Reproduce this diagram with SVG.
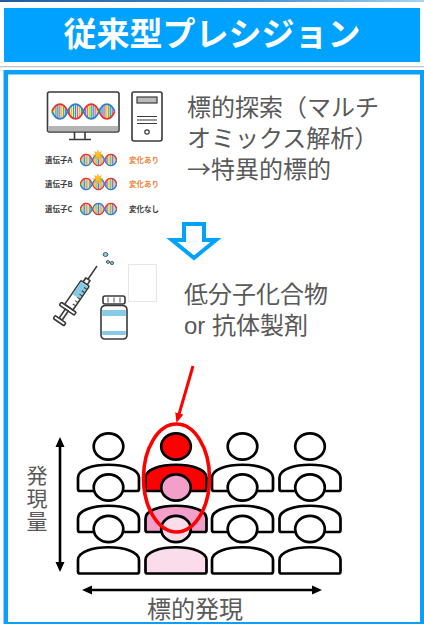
<svg xmlns="http://www.w3.org/2000/svg" width="424" height="624" viewBox="0 0 424 624">
  <defs>
    <style>
      .jp{font-family:"Noto Sans CJK JP","Noto Sans",sans-serif}
      .lt{font-family:"Liberation Sans","Noto Sans CJK JP",sans-serif}
      .title{font-size:33px;font-weight:bold;fill:#fff}
      .desc{font-size:24px;fill:#595959}
      .axis{font-size:21px;fill:#595959}
      .gene{font-size:7.5px;font-weight:bold;fill:#3c3c3c}
      .chg{font-size:7.5px;font-weight:bold;fill:#E8873F}
      .nochg{font-size:7.5px;font-weight:bold;fill:#3c3c3c}
      .ink{stroke:#3a3a3a;stroke-width:1.6;stroke-linejoin:round;fill:#fff}
      .ppl{stroke:#000;stroke-width:2.7;stroke-linejoin:round}
      .liquid{fill:#86CBE6}
      .rung{stroke-width:1.3;fill:none}
    </style>
    <linearGradient id="topStrip" x1="0" x2="1" y1="0" y2="0">
      <stop offset="0" stop-color="#1E5C9E"/>
      <stop offset="0.6" stop-color="#3F8FD0"/>
      <stop offset="1" stop-color="#A8D4F2"/>
    </linearGradient>
    <marker id="ahBlack" viewBox="0 0 10 10" refX="6" refY="5" markerWidth="10" markerHeight="10" markerUnits="userSpaceOnUse" orient="auto-start-reverse">
      <path d="M0,0.5 L10,5 L0,9.5 Z" fill="#000"/>
    </marker>
    <marker id="ahRed" viewBox="0 0 10 10" refX="6" refY="5" markerWidth="10" markerHeight="10" markerUnits="userSpaceOnUse" orient="auto">
      <path d="M0,0.8 L10,5 L0,9.2 Z" fill="#FF0000"/>
    </marker>
    <!-- double helix, 4 half-turns, 64 x 16 -->
    <g id="dnaCore">
      <path class="rung" stroke="#F2C200" d="M2,5.3V10.7M10,1.53V14.47M20,3.05V12.95M28,3.05V12.95M38,1.53V14.47M46,5.3V10.7M56,1V15"/>
      <path class="rung" stroke="#3DAE49" d="M4,3.05V12.95M12,3.05V12.95M22,1.53V14.47M30,5.3V10.7M40,1V15M50,5.3V10.7M58,1.53V14.47"/>
      <path class="rung" stroke="#2F8ED8" d="M6,1.53V14.47M14,5.3V10.7M24,1V15M34,5.3V10.7M42,1.53V14.47M52,3.05V12.95M60,3.05V12.95"/>
      <path class="rung" stroke="#E9579A" d="M8,1V15M18,5.3V10.7M26,1.53V14.47M36,3.05V12.95M44,3.05V12.95M54,1.53V14.47M62,5.3V10.7"/>
      <path d="M0,8 C4,-1.3 12,-1.3 16,8 S28,17.3 32,8 S44,-1.3 48,8 S60,17.3 64,8" fill="none" stroke="#E8322B" stroke-width="1.8"/>
      <path d="M0,8 C4,17.3 12,17.3 16,8 S28,-1.3 32,8 S44,17.3 48,8 S60,-1.3 64,8" fill="none" stroke="#2E7FCF" stroke-width="1.8"/>
    </g>
    <symbol id="dnaShort" viewBox="0 0 48 16" preserveAspectRatio="none">
      <use href="#dnaCore"/>
    </symbol>
    <polygon id="burst" fill="#FFC20E" stroke="#F39A1E" stroke-width="0.5" points="5,0 2.03,0.84 3.54,3.54 0.84,2.03 0,5 -0.84,2.03 -3.54,3.54 -2.03,0.84 -5,0 -2.03,-0.84 -3.54,-3.54 -0.84,-2.03 0,-5 0.84,-2.03 3.54,-3.54 2.03,-0.84"/>
    <!-- person pictogram: head centre at origin -->
    <g id="person">
      <path d="M-30.5,42.5 Q-30.5,44.5 -28.5,44.5 L28.5,44.5 Q30.5,44.5 30.5,42.5 L30.5,31 C30.5,14 -30.5,14 -30.5,31 Z"/>
      <ellipse cx="0" cy="0" rx="14.8" ry="13.2"/>
    </g>
  </defs>

  <!-- page background and frame -->
  <rect x="0" y="0" width="424" height="624" fill="#fff"/>
  <rect x="0" y="0" width="424" height="2" fill="url(#topStrip)"/>
  <g id="title">
    <rect x="4" y="8" width="416" height="54" fill="#00A2FF"/>
    <text class="jp title" x="212" y="46" text-anchor="middle">従来型プレシジョン</text>
  </g>
  <rect x="0" y="66" width="424" height="1.3" fill="#C4C4C4"/>
  <rect x="5.75" y="72.25" width="416.5" height="552" fill="#fff" stroke="#0AA0F7" stroke-width="4.5"/>

  <!-- target search: computer and gene list -->
  <g id="computer">
    <rect class="ink" x="47.5" y="92" width="71.5" height="40" rx="2"/>
    <rect x="48.3" y="126" width="69.9" height="5.2" fill="#B4B4B4"/>
    <use href="#dnaCore" transform="translate(52,103) scale(0.98,1.06)"/>
    <path d="M74.5,132V139M85,132V139M69,139.5H91" stroke="#3a3a3a" stroke-width="1.6" fill="none"/>
    <rect class="ink" x="132" y="92" width="30" height="49" rx="2"/>
    <rect x="137" y="97" width="20" height="6" fill="#BBBBBB" stroke="#3a3a3a" stroke-width="1.2"/>
    <path d="M137,116.5H157M137,120H157M137,123.5H157" stroke="#3a3a3a" stroke-width="1.2"/>
    <circle cx="147" cy="132" r="2.2" fill="#fff" stroke="#3a3a3a" stroke-width="1.2"/>
  </g>
  <g id="genes">
    <text class="jp gene" x="45" y="163">遺伝子A</text>
    <use href="#dnaShort" x="80" y="153.5" width="37" height="13"/>
    <use href="#burst" transform="translate(98,155)"/>
    <text class="jp chg" x="129" y="163">変化あり</text>
    <text class="jp gene" x="45" y="187">遺伝子B</text>
    <use href="#dnaShort" x="80" y="177.5" width="37" height="13"/>
    <use href="#burst" transform="translate(98,179)"/>
    <text class="jp chg" x="129" y="187">変化あり</text>
    <text class="jp gene" x="45" y="212">遺伝子C</text>
    <use href="#dnaShort" x="80" y="202.5" width="37" height="13"/>
    <text class="jp nochg" x="129" y="212">変化なし</text>
  </g>
  <g id="search-text">
    <text class="lt desc" x="187" y="116">標的探索（マルチ</text>
    <text class="lt desc" x="187" y="147">オミックス解析）</text>
    <text class="lt desc" x="187" y="178"><tspan style="font-family:'Noto Sans CJK JP',sans-serif">→</tspan>特異的標的</text>
  </g>

  <!-- hollow down arrow -->
  <g id="down-arrow">
    <path d="M184,224 H204 V240 H216 L194,258 L172,240 H184 Z" fill="#fff" stroke="#00A2FF" stroke-width="4" stroke-linejoin="miter"/>
  </g>

  <!-- drugs: syringe and vial -->
  <g id="drugs">
    <rect x="128.5" y="264.5" width="28" height="37" fill="none" stroke="#E6E6E6" stroke-width="1"/>
    <g transform="translate(97,266) rotate(124.4)">
      <line x1="0" y1="0" x2="17" y2="0" stroke="#3a3a3a" stroke-width="1.5"/>
      <rect class="ink" x="16" y="-2.5" width="5" height="5"/>
      <rect class="ink" x="21" y="-5" width="29" height="10" rx="1"/>
      <rect class="liquid" x="22" y="-4.2" width="15" height="8.4"/>
      <path d="M25,-5V-1.5M29,-5V-1.5M33,-5V-1.5M37,-5V-1.5M41,-5V-1.5M45,-5V-1.5" stroke="#3a3a3a" stroke-width="1"/>
      <rect class="ink" x="50" y="-9" width="3.5" height="18" rx="1"/>
      <rect class="ink" x="53.5" y="-1.8" width="11" height="3.6"/>
      <rect class="ink" x="64.5" y="-6.5" width="3.5" height="13" rx="1"/>
    </g>
    <ellipse cx="105.5" cy="254.5" rx="2.4" ry="2" fill="#86CBE6" stroke="#3a3a3a" stroke-width="0.8"/>
    <ellipse cx="108" cy="262" rx="1.6" ry="1.4" fill="#86CBE6" stroke="#3a3a3a" stroke-width="0.8"/>
    <ellipse cx="112" cy="263" rx="1.6" ry="1.6" fill="#86CBE6" stroke="#3a3a3a" stroke-width="0.8"/>
    <path class="ink" d="M101,310 Q101,305.5 106,305.5 H122 Q127,305.5 127,310 V335 Q127,339 123,339 H105 Q101,339 101,335 Z"/>
    <rect class="liquid" x="102.2" y="310" width="23.6" height="6"/>
    <rect class="liquid" x="102.2" y="331" width="23.6" height="4"/>
    <rect class="ink" x="103" y="296" width="22" height="8" rx="2"/>
    <path d="M108,297.5V302.5M114,297.5V302.5M120,297.5V302.5" stroke="#3a3a3a" stroke-width="0.9"/>
  </g>
  <g id="drug-text">
    <text class="lt desc" x="184" y="303">低分子化合物</text>
    <text class="lt desc" x="184" y="334">or 抗体製剤</text>
  </g>

  <!-- patients: 3 rows x 4 columns -->
  <g id="patients" class="ppl">
    <g id="p-r1-c1"><use href="#person" x="108.5" y="446.5" fill="#fff"/></g>
    <g id="p-r1-c2"><use href="#person" x="176" y="446.5" fill="#FF0000"/></g>
    <g id="p-r1-c3"><use href="#person" x="242.5" y="446.5" fill="#fff"/></g>
    <g id="p-r1-c4"><use href="#person" x="310" y="446.5" fill="#fff"/></g>
    <g id="p-r2-c1"><use href="#person" x="108.5" y="487.5" fill="#fff"/></g>
    <g id="p-r2-c2"><use href="#person" x="176" y="487.5" fill="#F2A0C9"/></g>
    <g id="p-r2-c3"><use href="#person" x="242.5" y="487.5" fill="#fff"/></g>
    <g id="p-r2-c4"><use href="#person" x="310" y="487.5" fill="#fff"/></g>
    <g id="p-r3-c1"><use href="#person" x="108.5" y="529" fill="#fff"/></g>
    <g id="p-r3-c2"><use href="#person" x="176" y="529" fill="#FBDCEA"/></g>
    <g id="p-r3-c3"><use href="#person" x="242.5" y="529" fill="#fff"/></g>
    <g id="p-r3-c4"><use href="#person" x="310" y="529" fill="#fff"/></g>
  </g>
  <g id="highlight">
    <ellipse cx="176.5" cy="478" rx="33" ry="54" fill="none" stroke="#FF0000" stroke-width="3.6"/>
  </g>

  <!-- connectors -->
  <g id="connectors" fill="none">
    <line x1="193" y1="366" x2="177.6" y2="419.2" stroke="#FF0000" stroke-width="3" marker-end="url(#ahRed)"/>
    <line x1="60" y1="441" x2="60" y2="568" stroke="#000" stroke-width="2.6" marker-start="url(#ahBlack)" marker-end="url(#ahBlack)"/>
    <line x1="86" y1="590" x2="318" y2="590" stroke="#000" stroke-width="2.6" marker-start="url(#ahBlack)" marker-end="url(#ahBlack)"/>
  </g>

  <g id="axis-labels">
    <text class="jp axis" x="37" y="465" writing-mode="vertical-rl" letter-spacing="2">発現量</text>
    <text class="lt desc" x="195" y="618" text-anchor="middle">標的発現</text>
  </g>
</svg>
